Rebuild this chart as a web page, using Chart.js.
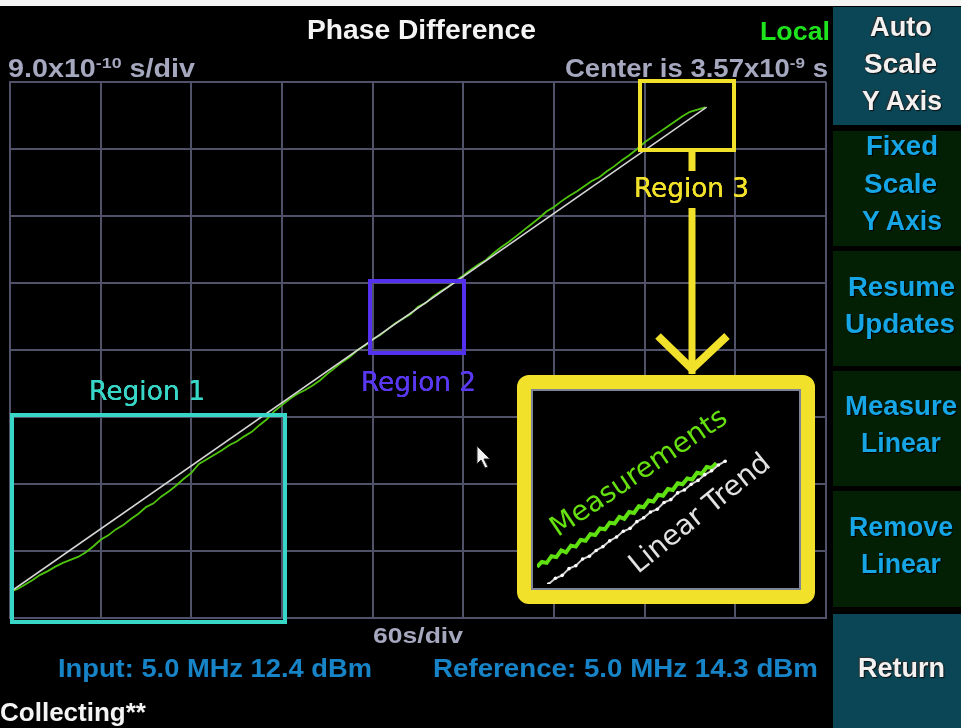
<!DOCTYPE html>
<html>
<head>
<meta charset="utf-8">
<title>Phase Difference</title>
<script src="https://cdn.jsdelivr.net/npm/chart.js@4.4.0/dist/chart.umd.min.js"></script>
<style>
  html, body { margin: 0; padding: 0; background: #000; width: 961px; height: 728px; overflow: hidden; }
  #screen { position: relative; width: 961px; height: 728px; background: #000; }
  .lbl { position: absolute; white-space: nowrap; transform-origin: 0 50%; line-height: 1; }
  .lbl sup { font-size: 62%; vertical-align: 0; position: relative; top: -0.55em; }
  .key { position: absolute; left: 833px; width: 128px; }
  .teal { background: #0a4656; }
  .dark { background: #032004; }
  canvas { position: absolute; }
  svg { position: absolute; left: 0; top: 0; }
  .rot { position: absolute; white-space: nowrap; font-family: "DejaVu Sans", sans-serif; transform-origin: 50% 50%; line-height: 1; }
</style>
</head>
<body>
<div id="screen">
  <div class="key teal" style="top:7px;height:118px"></div>
  <div class="key dark" style="top:131px;height:115px"></div>
  <div class="key dark" style="top:251px;height:115px"></div>
  <div class="key dark" style="top:371px;height:115px"></div>
  <div class="key dark" style="top:491px;height:116px"></div>
  <div class="key teal" style="top:614px;height:114px"></div>

  <canvas id="main" width="831" height="640" style="left:0;top:0"></canvas>

  <svg width="961" height="728" viewBox="0 0 961 728">
    <!-- status bar strip -->
    <rect x="0" y="0" width="961" height="6" fill="#f4f4f4"/>
    <!-- Region 1 -->
    <rect x="12" y="415" width="273" height="207" fill="none" stroke="#38d6c6" stroke-width="4"/>
    <!-- Region 2 -->
    <rect x="370" y="281" width="94" height="72" fill="none" stroke="#5431ee" stroke-width="4"/>
    <!-- Region 3 with callout -->
    <rect x="640" y="81" width="94" height="69" fill="none" stroke="#f2e12a" stroke-width="4"/>
    <line x1="692" y1="150" x2="692" y2="171" stroke="#f2e12a" stroke-width="7"/>
    <line x1="692" y1="208" x2="692" y2="374" stroke="#f2e12a" stroke-width="7"/>
    <polyline points="658,336 692,369 727,336" fill="none" stroke="#f2e12a" stroke-width="8" stroke-linejoin="miter"/>
    <rect x="524" y="382" width="284" height="215" rx="5" fill="#000" stroke="#f2e12a" stroke-width="14"/>
    <rect x="532" y="390" width="268" height="199" fill="none" stroke="#7f8596" stroke-width="2"/>
    <!-- pointer -->
    <polygon points="477,446 477,464 481,460 485,468 488,467 484,459 490,459" fill="#f2f2f2" stroke="#222" stroke-width="1"/>
  </svg>

  <canvas id="inset" width="266" height="196" style="left:533px;top:392px"></canvas>
</div>

<script>
// Display scaling of the phase-difference trace
const xDivSeconds = 60;        // 60 s/div
const yDivNs = 0.9;            // 9.0x10^-10 s/div
const yCenterNs = 3.57;        // Center is 3.57x10^-9 s
const xDivisions = 9;
const yDivisions = 8;

// Measured phase difference (ns) against elapsed time (s)
const timeSec = [0, 5, 10, 15, 20, 25, 30, 35, 40, 45, 50, 55, 60, 65, 70, 75, 80, 85, 90, 95,
  100, 105, 110, 115, 120, 125, 130, 135, 140, 145, 150, 155, 160, 165, 170, 175, 180, 185, 190, 195,
  200, 205, 210, 215, 220, 225, 230, 235, 240, 245, 250, 255, 260, 265, 270, 275, 280, 285, 290, 295,
  300, 305, 310, 315, 320, 325, 330, 335, 340, 345, 350, 355, 360, 365, 370, 375, 380, 385, 390, 395,
  400, 405, 410, 415, 420, 425, 430, 435, 440, 445, 450, 455, 460];
const measuredNs = [0.32, 0.36, 0.42, 0.48, 0.55, 0.60, 0.66, 0.71, 0.75, 0.79, 0.85, 0.93, 1.02, 1.08, 1.16, 1.22, 1.30, 1.37, 1.46, 1.51,
  1.60, 1.67, 1.75, 1.84, 1.92, 2.04, 2.10, 2.16, 2.22, 2.29, 2.34, 2.41, 2.47, 2.56, 2.64, 2.75, 2.83, 2.91, 2.98, 3.03,
  3.09, 3.16, 3.25, 3.33, 3.41, 3.48, 3.57, 3.63, 3.71, 3.77, 3.85, 3.93, 3.99, 4.05, 4.15, 4.20, 4.29, 4.36, 4.42, 4.50,
  4.57, 4.65, 4.72, 4.78, 4.87, 4.95, 5.02, 5.10, 5.18, 5.26, 5.34, 5.43, 5.49, 5.57, 5.64, 5.70, 5.77, 5.84, 5.89, 5.97,
  6.04, 6.12, 6.19, 6.27, 6.36, 6.43, 6.50, 6.57, 6.64, 6.71, 6.77, 6.80, 6.83];

// Fitted linear trend, end points
const trendTimeSec = [0, 461];
const trendNs = [0.319, 6.834];

// Magnified sketch in the callout (pixels inside the callout, y measured up from its bottom)
const sketchMeasX = [0, 5, 10, 15, 20, 25, 30, 35, 40, 45, 50, 55, 60, 65, 70, 75, 80, 85, 90, 95,
  100, 105, 110, 115, 120, 125, 130, 135, 140, 145, 150, 155, 160, 165, 170, 175, 180, 185];
const sketchMeasY = [18, 23, 22, 29, 28, 35, 33, 40, 39, 46, 45, 52, 51, 58, 57, 64, 63, 70, 68, 75,
  74, 81, 80, 87, 86, 93, 92, 99, 98, 105, 104, 110, 109, 116, 115, 122, 121, 126];
const sketchTrendX = [12, 19, 26, 33, 40, 47, 54, 61, 68, 75, 82, 89, 96, 103, 110, 117, 124, 131, 138, 145,
  152, 159, 166, 173, 180, 187, 194];
const sketchTrendY = [0, 6, 9, 16, 19, 26, 29, 35, 39, 45, 49, 55, 58, 65, 69, 75, 78, 85, 88, 95,
  98, 104, 108, 114, 118, 124, 128];

const screen = document.getElementById('screen');

// --- main trace ---------------------------------------------------------
const yMin = yCenterNs - yDivNs * yDivisions / 2;
const yMax = yCenterNs + yDivNs * yDivisions / 2;
const xMax = xDivSeconds * xDivisions;
const yGridNs = Array.from({ length: yDivisions + 1 }, (_, i) => yMin + i * yDivNs);
const gridColor = '#4f5268';

new Chart(document.getElementById('main'), {
  type: 'line',
  data: {
    datasets: [
      {
        label: 'Linear Trend',
        data: trendTimeSec.map((t, i) => ({ x: t, y: trendNs[i] })),
        borderColor: '#d6d6d6',
        borderWidth: 1.5,
        pointRadius: 0
      },
      {
        label: 'Measurements',
        data: timeSec.map((t, i) => ({ x: t, y: measuredNs[i] })),
        borderColor: '#4ec40c',
        borderWidth: 1.8,
        pointRadius: 0,
        tension: 0
      }
    ]
  },
  options: {
    responsive: false,
    animation: false,
    devicePixelRatio: 1,
    layout: { padding: { left: 10, top: 82, right: 5, bottom: 22 } },
    plugins: { legend: { display: false }, tooltip: { enabled: false } },
    scales: {
      x: {
        type: 'linear', min: 0, max: xMax,
        ticks: { display: false, stepSize: xDivSeconds },
        grid: { color: gridColor, lineWidth: 2, drawTicks: false },
        border: { color: gridColor, width: 2 }
      },
      y: {
        type: 'linear', min: yMin, max: yMax,
        afterBuildTicks: s => { s.ticks = yGridNs.map(v => ({ value: v })); },
        ticks: { display: false },
        grid: { color: gridColor, lineWidth: 2, drawTicks: false },
        border: { color: gridColor, width: 2 }
      }
    }
  }
});

// --- callout sketch -----------------------------------------------------
new Chart(document.getElementById('inset'), {
  type: 'line',
  data: {
    datasets: [
      {
        label: 'Linear Trend',
        data: sketchTrendX.map((x, i) => ({ x, y: sketchTrendY[i] })),
        borderColor: '#cfcfcf',
        borderWidth: 2,
        pointRadius: 1.8,
        pointBackgroundColor: '#ffffff',
        pointBorderWidth: 0
      },
      {
        label: 'Measurements',
        data: sketchMeasX.map((x, i) => ({ x, y: sketchMeasY[i] })),
        borderColor: '#5fe010',
        borderWidth: 4,
        pointRadius: 0
      }
    ]
  },
  options: {
    responsive: false,
    animation: false,
    devicePixelRatio: 1,
    layout: { padding: 0 },
    plugins: { legend: { display: false }, tooltip: { enabled: false } },
    scales: {
      x: { type: 'linear', min: 0, max: 266, display: false },
      y: { type: 'linear', min: 0, max: 196, display: false }
    }
  }
});

// --- screen text --------------------------------------------------------
function label(html, opts) {
  const el = document.createElement('div');
  el.className = 'lbl';
  el.innerHTML = html;
  el.style.font = opts.font;
  el.style.color = opts.color;
  if (opts.shadow) el.style.textShadow = opts.shadow;
  screen.appendChild(el);
  const r = el.getBoundingClientRect();
  const sx = opts.w / r.width;
  el.style.left = opts.x + 'px';
  el.style.top = (opts.y - r.height / 2) + 'px';
  el.style.transform = 'scaleX(' + sx + ')';
  return el;
}

const bold = (px) => 'bold ' + px + 'px "Liberation Sans", Arial, sans-serif';
const grey = '#a5a8be';

label('Phase Difference', { x: 307, y: 30, w: 229, font: bold(27), color: '#f4f4f4' });
label('Local', { x: 760, y: 31, w: 70, font: bold(26), color: '#1ee41e' });
label('9.0x10<sup>-10</sup> s/div', { x: 8, y: 68, w: 187, font: bold(25), color: grey });
label('Center is 3.57x10<sup>-9</sup> s', { x: 565, y: 68, w: 263, font: bold(25), color: grey });
label('60s/div', { x: 373, y: 636, w: 90, font: bold(22), color: grey });
label('Input: 5.0 MHz 12.4 dBm', { x: 58, y: 668, w: 314, font: bold(26), color: '#1784c8' });
label('Reference: 5.0 MHz 14.3 dBm', { x: 433, y: 668, w: 385, font: bold(26), color: '#1784c8' });
label('Collecting**', { x: 0, y: 712, w: 146, font: bold(26), color: '#f4f4f4' });

const regionFont = '26px "DejaVu Sans", sans-serif';
const thick = c => '0 0 0.6px ' + c + ', 0 0 0.6px ' + c;
label('Region 1', { x: 89, y: 391, w: 116, font: regionFont, color: '#38d6c6', shadow: thick('#38d6c6') });
label('Region 2', { x: 361, y: 382, w: 115, font: regionFont, color: '#5a38f0', shadow: thick('#5a38f0') });
label('Region 3', { x: 634, y: 188, w: 115, font: regionFont, color: '#f2e12a', shadow: thick('#f2e12a') });

// soft keys
const keyWhite = { color: '#f2f2f2', shadow: '1px 1px 1px #101010, -1px -1px 1px #303030' };
const keyBlue = { color: '#16a6e6', shadow: '1px 1px 1px #000' };
const keyLines = [
  ['Auto', 870, 27, 62, keyWhite], ['Scale', 864, 64, 73, keyWhite], ['Y Axis', 862, 101, 80, keyWhite],
  ['Fixed', 866, 146, 72, keyBlue], ['Scale', 864, 184, 73, keyBlue], ['Y Axis', 862, 221, 80, keyBlue],
  ['Resume', 848, 287, 107, keyBlue], ['Updates', 845, 324, 110, keyBlue],
  ['Measure', 845, 406, 112, keyBlue], ['Linear', 861, 443, 80, keyBlue],
  ['Remove', 849, 527, 104, keyBlue], ['Linear', 861, 564, 80, keyBlue],
  ['Return', 858, 668, 87, keyWhite]
];
keyLines.forEach(([txt, x, y, w, st]) => label(txt, { x, y, w, font: bold(27), color: st.color, shadow: st.shadow }));

// rotated captions inside the callout
function rotated(text, cx, cy, deg, size, color) {
  const el = document.createElement('div');
  el.className = 'rot';
  el.textContent = text;
  el.style.fontSize = size + 'px';
  el.style.color = color;
  screen.appendChild(el);
  const r = el.getBoundingClientRect();
  el.style.left = (cx - r.width / 2) + 'px';
  el.style.top = (cy - r.height / 2) + 'px';
  el.style.transform = 'rotate(' + deg + 'deg)';
}
rotated('Measurements', 638, 472, -34, 28, '#66e010');
rotated('Linear Trend', 699, 513, -39, 28, '#e2e2e2');
</script>
</body>
</html>
